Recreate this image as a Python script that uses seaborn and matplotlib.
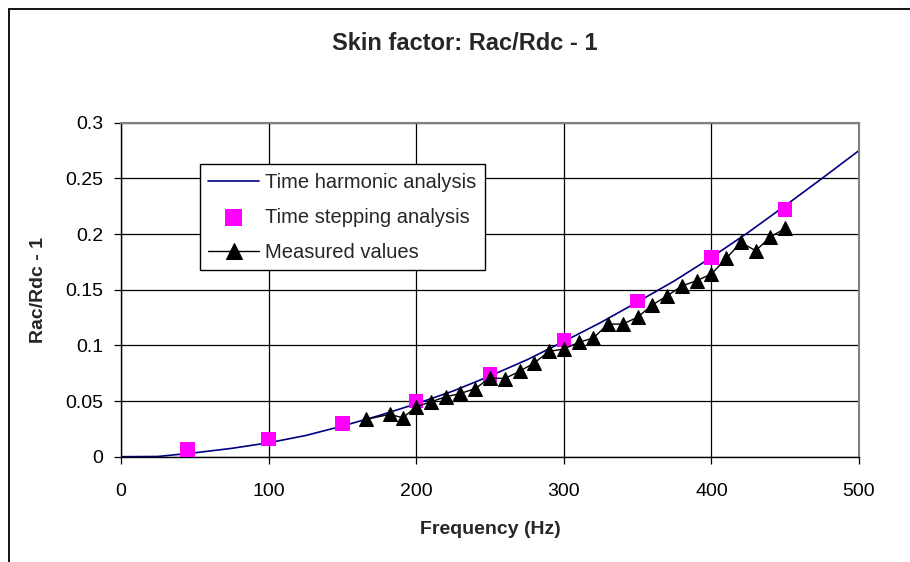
import numpy as np
import pandas as pd
import matplotlib
matplotlib.use("Agg")
import matplotlib.pyplot as plt
from matplotlib.patches import Rectangle
from matplotlib.ticker import FormatStrFormatter, MultipleLocator
import seaborn as sns

# --- data ---
harmonic_freq = [0, 25, 50, 75, 100, 125, 150, 175, 200, 225, 250, 275, 300,
                 325, 350, 375, 400, 425, 450, 475, 500]
harmonic_val = [0.0, 0.0002, 0.0035, 0.0075, 0.0125, 0.019, 0.0275, 0.037, 0.0475,
                0.059, 0.0725, 0.087, 0.1035, 0.1205, 0.139, 0.158, 0.179, 0.2015,
                0.2255, 0.25, 0.275]

stepping_freq = [45, 100, 150, 200, 250, 300, 350, 400, 450]
stepping_val = [0.0066, 0.016, 0.030, 0.050, 0.074, 0.105, 0.140, 0.179, 0.222]

measured_freq = [166, 182, 191, 200, 210, 220, 230, 240, 250, 260, 270, 280, 290,
                 300, 310, 320, 330, 340, 350, 360, 370, 380, 390, 400, 410, 420,
                 430, 440, 450]
measured_val = [0.0335, 0.038, 0.035, 0.0448, 0.0493, 0.0538, 0.0568, 0.0612, 0.0708,
                0.0702, 0.0767, 0.0842, 0.0946, 0.0967, 0.1027, 0.1066, 0.1191,
                0.1191, 0.1253, 0.1364, 0.1444, 0.1534, 0.1581, 0.1641, 0.1781,
                0.1924, 0.185, 0.1975, 0.205]

x_ticks = [0, 100, 200, 300, 400, 500]

sns.set_theme(style="white")
plt.rcParams['font.family'] = ['Liberation Sans', 'DejaVu Sans']

fig = plt.figure(figsize=(9.1, 5.62), dpi=100)
ax = fig.add_axes([121 / 910, 1 - 456.7 / 562, 738 / 910, 334 / 562])

harm = pd.DataFrame({'f': harmonic_freq, 'v': harmonic_val})
step = pd.DataFrame({'f': stepping_freq, 'v': stepping_val})
meas = pd.DataFrame({'f': measured_freq, 'v': measured_val})

sns.lineplot(data=harm, x='f', y='v', color='#000080', linewidth=1.2,
             label='Time harmonic analysis', ax=ax)
sns.scatterplot(data=step, x='f', y='v', marker='s', s=110, color='#FF00FF',
                edgecolor='none', linewidth=0, label='Time stepping analysis', ax=ax, zorder=3)
sns.lineplot(data=meas, x='f', y='v', color='black', linewidth=1.0, marker='^',
             markersize=10, markeredgecolor='black', label='Measured values', ax=ax, zorder=4)

ax.set_xlim(0, 500)
ax.set_ylim(0, 0.3)
ax.set_xticks(x_ticks)
ax.yaxis.set_major_locator(MultipleLocator(0.05))
ax.yaxis.set_major_formatter(FormatStrFormatter('%g'))
ax.grid(True, color='black', linewidth=0.9)
ax.set_axisbelow(True)

for side in ['left', 'bottom']:
    ax.spines[side].set_color('black')
    ax.spines[side].set_linewidth(1.0)
for side in ['top', 'right']:
    ax.spines[side].set_color('#808080')
    ax.spines[side].set_linewidth(1.5)

ax.tick_params(axis='both', which='major', direction='out', length=5, width=0.9,
               colors='black', labelsize=14, left=True, bottom=True)
ax.tick_params(axis='y', pad=8)
ax.tick_params(axis='x', pad=14)

ax.set_xlabel('Frequency (Hz)', fontsize=14, fontweight='bold')
ax.set_ylabel('Rac/Rdc - 1', fontsize=14, fontweight='bold')
ax.xaxis.set_label_coords(0.5, -0.193)
ax.yaxis.set_label_coords(-0.1003, 0.5)

leg = ax.legend(loc='upper left', bbox_to_anchor=(79 / 738, 292.4 / 334), fontsize=14.5,
                frameon=True, fancybox=False, framealpha=1, edgecolor='black',
                borderpad=0.42, labelspacing=0.8, handlelength=2.5, handletextpad=0.3,
                borderaxespad=0, markerscale=1.15)
leg.get_frame().set_linewidth(1.0)

fig.text(464.5 / 910, 1 - 44 / 562, 'Skin factor: Rac/Rdc - 1', fontsize=17,
         fontweight='bold', ha='center', va='center')

# outer chart-area border (cropped on the right and bottom)
fig.add_artist(Rectangle((8.5 / 910, -0.1), 1.2, 1.1 - 8.5 / 562, transform=fig.transFigure,
                         fill=False, edgecolor='black', linewidth=1.3))

fig.savefig('out.png', dpi=100)
